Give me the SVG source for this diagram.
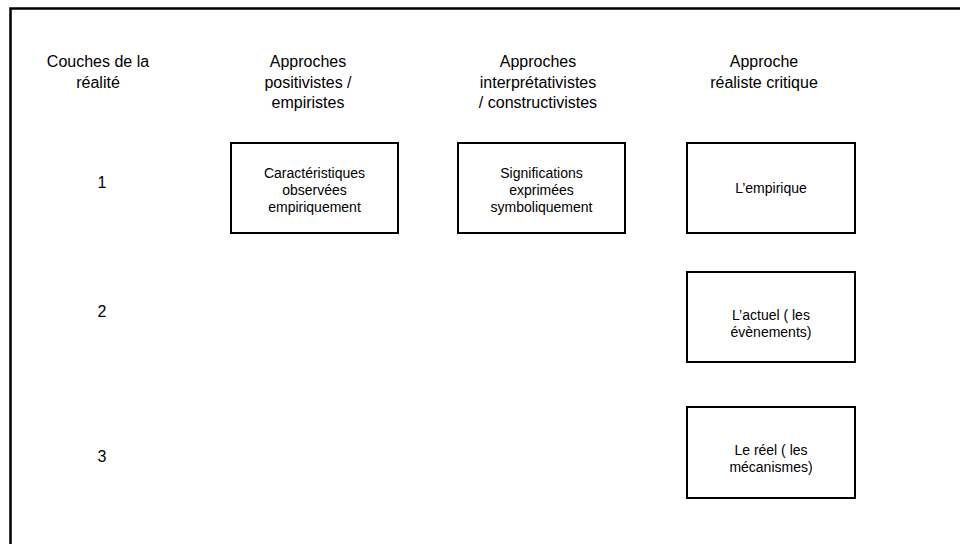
<svg xmlns="http://www.w3.org/2000/svg" width="960" height="544" viewBox="0 0 960 544">
<style>
text{font-family:"Liberation Sans",Arial,sans-serif;fill:#000;text-anchor:middle}
.h{font-size:16px}
.b{font-size:14px}
.box{fill:#fff;stroke:#000;stroke-width:2}
</style>
<rect x="0" y="0" width="960" height="544" fill="#fff"/>
<rect id="frame" x="10.5" y="8.5" width="1000" height="600" fill="none" stroke="#000" stroke-width="2.5"/>
<g id="headers">
<text class="h" x="98" y="67">Couches de la</text>
<text class="h" x="98" y="88">réalité</text>
<text class="h" x="308" y="67">Approches</text>
<text class="h" x="308" y="88">positivistes /</text>
<text class="h" x="308" y="108">empiristes</text>
<text class="h" x="538" y="67">Approches</text>
<text class="h" x="538" y="88">interprétativistes</text>
<text class="h" x="538" y="108">/ constructivistes</text>
<text class="h" x="764" y="67">Approche</text>
<text class="h" x="764" y="88">réaliste critique</text>
</g>
<g id="layers">
<text class="h" x="102" y="188">1</text>
<text class="h" x="102" y="317">2</text>
<text class="h" x="102" y="462">3</text>
</g>
<g id="node-caracteristiques">
<rect class="box" x="231" y="143" width="167" height="90"/>
<text class="b" x="314.5" y="178">Caractéristiques</text>
<text class="b" x="314.5" y="195">observées</text>
<text class="b" x="314.5" y="212">empiriquement</text>
</g>
<g id="node-significations">
<rect class="box" x="458" y="143" width="167" height="90"/>
<text class="b" x="541.5" y="178">Significations</text>
<text class="b" x="541.5" y="195">exprimées</text>
<text class="b" x="541.5" y="212">symboliquement</text>
</g>
<g id="node-empirique">
<rect class="box" x="687" y="143" width="168" height="90"/>
<text class="b" x="771" y="193">L’empirique</text>
</g>
<g id="node-actuel">
<rect class="box" x="687" y="272" width="168" height="90"/>
<text class="b" x="771" y="320">L’actuel ( les</text>
<text class="b" x="771" y="337">évènements)</text>
</g>
<g id="node-reel">
<rect class="box" x="687" y="407" width="168" height="91"/>
<text class="b" x="771" y="455">Le réel ( les</text>
<text class="b" x="771" y="472">mécanismes)</text>
</g>
<g id="connectors"></g>
</svg>
